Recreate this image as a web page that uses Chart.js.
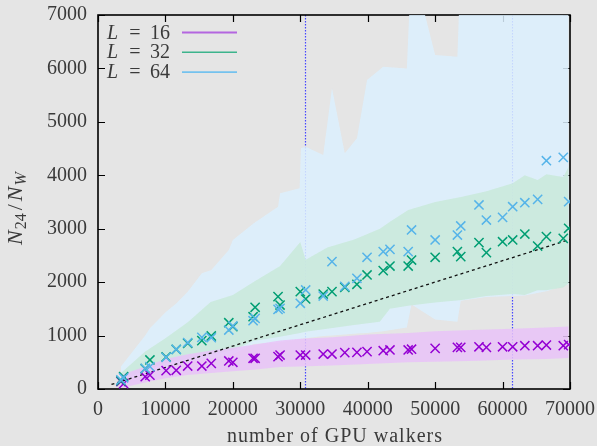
<!DOCTYPE html>
<html>
<head>
<meta charset="utf-8">
<script src="https://cdn.jsdelivr.net/npm/chart.js@4.4.1/dist/chart.umd.min.js"></script>
<style>
  html, body { margin: 0; padding: 0; background: #e5e5e5; }
  canvas { display: block; }
</style>
</head>
<body>
<canvas id="chart" width="597" height="446"></canvas>
<script>
// runs: number of GPU walkers and measured N24/NW for each lattice size
const walkers = [3400, 3800, 7000, 7700, 10100, 11600, 13300, 15400, 16800, 19400, 20000, 23000, 23300,
  26700, 27000, 30000, 30800, 33400, 34700, 36600, 38400, 39900, 42300, 43300, 46000, 46500, 50000,
  53300, 53800, 56500, 57600, 60000, 61500, 63300, 65200, 66500, 69000, 69800];
const l16 = [140, 100, 230, 260, 345, 350, 430, 430, 480, 525, 500, 575, 575, 605, 636, 636, 636, 655,
  655, 680, 685, 700, 717, 730, 730, 745, 760, 780, 780, 790, 780, 790, 790, 810, 810, 823, 810, 830];
const l32 = [150, 230, 380, 543, 600, 740, 855, 905, 992, 1241, 1166, 1353, 1529, 1728, 1572, 1822,
  1685, 1778, 1822, 1903, 1960, 2134, 2215, 2302, 2302, 2414, 2465, 2570, 2477, 2739, 2552, 2757, 2789,
  2901, 2676, 2851, 2820, 3008];
const l64 = [170, 210, 387, 418, 593, 743, 870, 967, 960, 1104, 1180, 1278, 1323, 1490, 1510, 1604,
  1853, 1740, 2383, 1920, 2072, 2465, 2570, 2614, 2570, 2976, 2789, 2882, 3051, 3444, 3163, 3212, 3412,
  3487, 3550, 4273, 4336, 3506];

// spread bands
const band16X = [3400, 7000, 10000, 13300, 16800, 20000, 23000, 27000, 30000, 34700, 40000, 46000,
  50000, 56500, 61500, 66500, 69800];
const band16Lo = [20, 120, 200, 260, 300, 330, 360, 410, 420, 440, 470, 500, 510, 530, 550, 560, 580];
const band16Hi = [260, 420, 560, 650, 720, 770, 830, 910, 940, 970, 1020, 1050, 1080, 1110, 1130, 1150, 1170];

const band32X = [3400, 7000, 10000, 13300, 16700, 20000, 23000, 27000, 30000, 30800, 34000, 38000,
  41800, 43300, 46000, 50000, 54000, 57600, 61500, 63300, 65200, 66500, 69000, 69800];
const band32Lo = [130, 350, 480, 560, 640, 720, 900, 980, 1050, 1070, 1130, 1200, 1260, 1500, 1560,
  1620, 1666, 1740, 1780, 1760, 1850, 1850, 1900, 1980];
const band32Hi = [300, 700, 950, 1250, 1630, 1760, 2000, 2300, 2750, 2420, 2650, 2800, 3000, 3130,
  3350, 3500, 3600, 3700, 3850, 4000, 3910, 4020, 3970, 4160];

const band64X = [3400, 7000, 7700, 10100, 11600, 13300, 15400, 16800, 19400, 20000, 23100, 26700,
  27000, 29900, 30100, 30800, 33400, 34700, 36600, 38400, 39900, 42300, 45800, 46500, 50000, 53300,
  53800, 57600, 61500, 63300, 66500, 69800];
const band64Lo = [100, 300, 320, 420, 460, 500, 560, 580, 640, 650, 840, 870, 880, 930, 940, 950, 990,
  1000, 1020, 1040, 1050, 1080, 1150, 1580, 1300, 1260, 1650, 1720, 1740, 1750, 1830, 1960];
const band64Hi = [420, 1000, 1136, 1447, 1600, 1822, 2165, 2227, 2601, 2789, 3101, 3412, 3662, 3756,
  4505, 4536, 4380, 5628, 4411, 4692, 5783, 6032, 6000, 8000, 6251, 6220, 8000, 8000, 8000, 8000, 8000, 8000];

// linear guide and the two reference walker counts
const fitX = [2000, 70000];
const fitY = [85, 2800];
const refWalkers = [30720, 61440];

const xTicks = [0, 10000, 20000, 30000, 40000, 50000, 60000, 70000];
const yTicks = [0, 1000, 2000, 3000, 4000, 5000, 6000, 7000];
const sizes = ['16', '32', '64'];

const SERIF = '"Liberation Serif", "DejaVu Serif", serif';
const TEXT = '#3a3a3a';

const pts = (xs, ys) => xs.map((x, i) => ({ x, y: ys[i] }));

function bandPair(xs, lo, hi, color, order) {
  return [
    { type: 'line', data: pts(xs, lo), borderWidth: 0, pointRadius: 0, fill: false, order },
    { type: 'line', data: pts(xs, hi), borderWidth: 0, pointRadius: 0, fill: '-1', backgroundColor: color, order },
  ];
}

function marks(ys, color) {
  return {
    type: 'scatter', data: pts(walkers, ys), showLine: false, pointStyle: 'crossRot',
    pointRadius: 6.5, pointHoverRadius: 6.5, borderWidth: 1.5, borderColor: color, backgroundColor: color, order: 0,
  };
}

const decor = {
  id: 'decor',
  beforeDatasetsDraw(chart) {
    const { ctx, chartArea: a, scales: { x, y } } = chart;
    ctx.save();
    ctx.strokeStyle = '#4646ff';
    ctx.lineWidth = 1.2;
    ctx.setLineDash([1.5, 1.5]);
    refWalkers.forEach((v) => {
      const px = Math.round(x.getPixelForValue(v)) + 0.5;
      ctx.beginPath(); ctx.moveTo(px, a.top); ctx.lineTo(px, a.bottom); ctx.stroke();
    });
    ctx.setLineDash([]);
    ctx.strokeStyle = '#000';
    ctx.lineWidth = 1.2;
    xTicks.forEach((v) => {
      const px = Math.round(x.getPixelForValue(v)) + 0.5;
      ctx.beginPath();
      ctx.moveTo(px, a.bottom); ctx.lineTo(px, a.bottom - 7);
      ctx.moveTo(px, a.top); ctx.lineTo(px, a.top + 7);
      ctx.stroke();
    });
    yTicks.forEach((v) => {
      const py = Math.round(y.getPixelForValue(v)) + 0.5;
      ctx.beginPath();
      ctx.moveTo(a.left, py); ctx.lineTo(a.left + 7, py);
      ctx.moveTo(a.right, py); ctx.lineTo(a.right - 7, py);
      ctx.stroke();
    });
    ctx.lineWidth = 1.6;
    ctx.strokeRect(a.left, a.top, a.right - a.left, a.bottom - a.top);
    ctx.restore();
  },
  afterDraw(chart) {
    const { ctx } = chart;
    ctx.save();
    ctx.fillStyle = TEXT;
    ctx.textBaseline = 'alphabetic';

    // legend
    const lineColors = ['#b466e0', '#3cb48c', '#74c2ee'];
    const lineWidths = [2.2, 1.6, 1.6];
    sizes.forEach((s, i) => {
      const base = 38.5 + i * 19.8;
      ctx.fillStyle = TEXT;
      ctx.textAlign = 'left';
      ctx.font = 'italic 20px ' + SERIF;
      ctx.fillText('L', 107, base);
      ctx.font = '20px ' + SERIF;
      ctx.textAlign = 'center';
      ctx.fillText('=', 135, base);
      ctx.textAlign = 'right';
      ctx.fillText(s, 170, base);
      ctx.strokeStyle = lineColors[i];
      ctx.lineWidth = lineWidths[i];
      ctx.beginPath(); ctx.moveTo(182, base - 6); ctx.lineTo(237, base - 6); ctx.stroke();
    });

    // x title
    ctx.textAlign = 'center';
    ctx.font = '20px ' + SERIF;
    ctx.letterSpacing = '1px';
    ctx.fillText('number of GPU walkers', 335, 442);
    ctx.letterSpacing = '0px';

    // y title N_24 / N_W
    ctx.translate(22, 245);
    ctx.rotate(-Math.PI / 2);
    ctx.textAlign = 'left';
    let cx = 0;
    const put = (t, font, dy, gap) => {
      ctx.font = font;
      ctx.fillText(t, cx, dy);
      cx += ctx.measureText(t).width + gap;
    };
    put('N', 'italic 22px ' + SERIF, 0, 1);
    put('24', '16px ' + SERIF, 4, 3);
    put('/', '22px ' + SERIF, 0, 3);
    put('N', 'italic 22px ' + SERIF, 0, 1);
    put('W', 'italic 16px ' + SERIF, 4, 0);
    ctx.restore();
  },
};

const fitLine = {
  type: 'line', data: pts(fitX, fitY), borderColor: '#111', borderWidth: 1.3,
  borderDash: [3, 3], pointRadius: 0, fill: false, order: 1,
};

const plain = (v) => String(v);

new Chart(document.getElementById('chart'), {
  data: {
    datasets: [
      marks(l64, '#56b4e9'),
      marks(l32, '#009e73'),
      marks(l16, '#9400d3'),
      fitLine,
      ...bandPair(band64X, band64Lo, band64Hi, 'rgba(220,240,254,0.85)', 4),
      ...bandPair(band32X, band32Lo, band32Hi, 'rgba(201,233,218,0.85)', 3),
      ...bandPair(band16X, band16Lo, band16Hi, 'rgba(233,195,248,0.85)', 2),
    ],
  },
  options: {
    responsive: false,
    animation: false,
    layout: { autoPadding: false, padding: { top: 15, right: 27, left: 0, bottom: 0 } },
    scales: {
      x: {
        type: 'linear', min: 0, max: 70000,
        afterBuildTicks: (s) => { s.ticks = xTicks.map((v) => ({ value: v })); },
        afterFit: (s) => { s.height = 57; s.paddingLeft = 0; s.paddingRight = 0; },
        grid: { display: false, drawTicks: false },
        border: { display: false },
        ticks: { color: TEXT, font: { family: SERIF, size: 20 }, padding: 9, maxRotation: 0, autoSkip: false, callback: plain },
      },
      y: {
        type: 'linear', min: 0, max: 7000,
        afterBuildTicks: (s) => { s.ticks = yTicks.map((v) => ({ value: v })); },
        afterFit: (s) => { s.width = 98; s.paddingTop = 0; s.paddingBottom = 0; },
        grid: { display: false, drawTicks: false },
        border: { display: false },
        ticks: { color: TEXT, font: { family: SERIF, size: 20 }, padding: 11, callback: plain },
      },
    },
    plugins: {
      legend: { display: false },
      tooltip: { enabled: false },
    },
  },
  plugins: [decor],
});
</script>
</body>
</html>
